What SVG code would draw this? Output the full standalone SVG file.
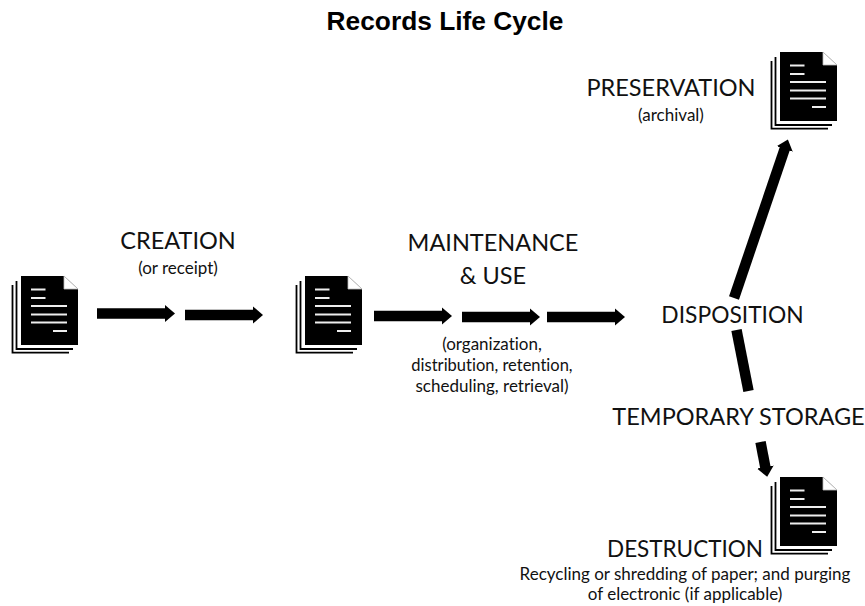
<svg xmlns="http://www.w3.org/2000/svg" width="865" height="606" viewBox="0 0 865 606">
<style>
text{font-family:Lato,"Open Sans","Liberation Sans",sans-serif;fill:#111;text-anchor:middle;font-variant-ligatures:none}
.t{font-size:23.500px}
.s{font-size:17px}
.title{font-family:"Liberation Sans",Arial,sans-serif;font-weight:700;font-size:26.300px;fill:#000}
.w{fill:none;stroke:#000;stroke-width:10.500}
</style>
<defs>
<marker id="ah" markerUnits="userSpaceOnUse" markerWidth="11" markerHeight="20" refX="1" refY="10" orient="auto"><path d="M0 1.500L10 10L0 18.500Z" fill="#000"/></marker>
<g id="doc">
<path d="M16.500 281V349H73" fill="none" stroke="#000" stroke-width="1.800"/>
<path d="M12.500 285V352.700H69" fill="none" stroke="#000" stroke-width="1.800"/>
<path d="M21 276H64L78 289V345H21Z" fill="#000"/>
<path d="M64 276L78 289H64Z" fill="#fff" stroke="#bbb" stroke-width=".8"/>
<path d="M31 289.500H45.500M31 298H45.500M31 306H67M31 314.500H67M31 322.500H67M53 331H67" stroke="#eee" stroke-width="1.800" fill="none"/>
</g>
</defs>
<text class="title" x="445" y="30">Records Life Cycle</text>
<g id="connectors">
<path class="w" marker-end="url(#ah)" d="M97 313.500H166"/>
<path class="w" marker-end="url(#ah)" d="M185 315H254"/>
<path class="w" marker-end="url(#ah)" d="M374 316H443"/>
<path class="w" marker-end="url(#ah)" d="M462 317H531"/>
<path class="w" marker-end="url(#ah)" d="M547 317H616"/>
<path class="w" marker-end="url(#ah)" d="M734 298L785 148"/>
<path class="w" d="M736.500 330L748.500 391"/>
<path class="w" marker-end="url(#ah)" d="M760.500 442L765.500 468"/>
</g>
<g id="n-source"><use href="#doc"/></g>
<g id="n-created"><use href="#doc" x="284" y="0"/></g>
<g id="n-preservation"><use href="#doc" x="759" y="-224"/>
<text class="t" x="671" y="96">PRESERVATION</text>
<text class="s" x="671" y="121">(archival)</text></g>
<g id="n-creation"><text class="t" x="178" y="249">CREATION</text>
<text class="s" x="178" y="274">(or receipt)</text></g>
<g id="n-maintenance"><text class="t" x="493" y="251">MAINTENANCE</text>
<text class="t" x="493" y="284">&amp; USE</text>
<text class="s" x="492" y="350">(organization,</text>
<text class="s" x="492" y="371" style="font-size:16.500px">distribution, retention,</text>
<text class="s" x="492" y="392">scheduling, retrieval)</text></g>
<g id="n-disposition"><text class="t" x="732.500" y="323" style="font-size:22.800px">DISPOSITION</text></g>
<g id="n-storage"><text class="t" x="738.500" y="425">TEMPORARY STORAGE</text></g>
<g id="n-destruction"><use href="#doc" x="759" y="201"/>
<text class="t" x="685" y="557" style="font-size:22.500px">DESTRUCTION</text>
<text class="s" x="685" y="580">Recycling or shredding of paper; and purging</text>
<text class="s" x="685" y="600">of electronic (if applicable)</text></g>
</svg>
